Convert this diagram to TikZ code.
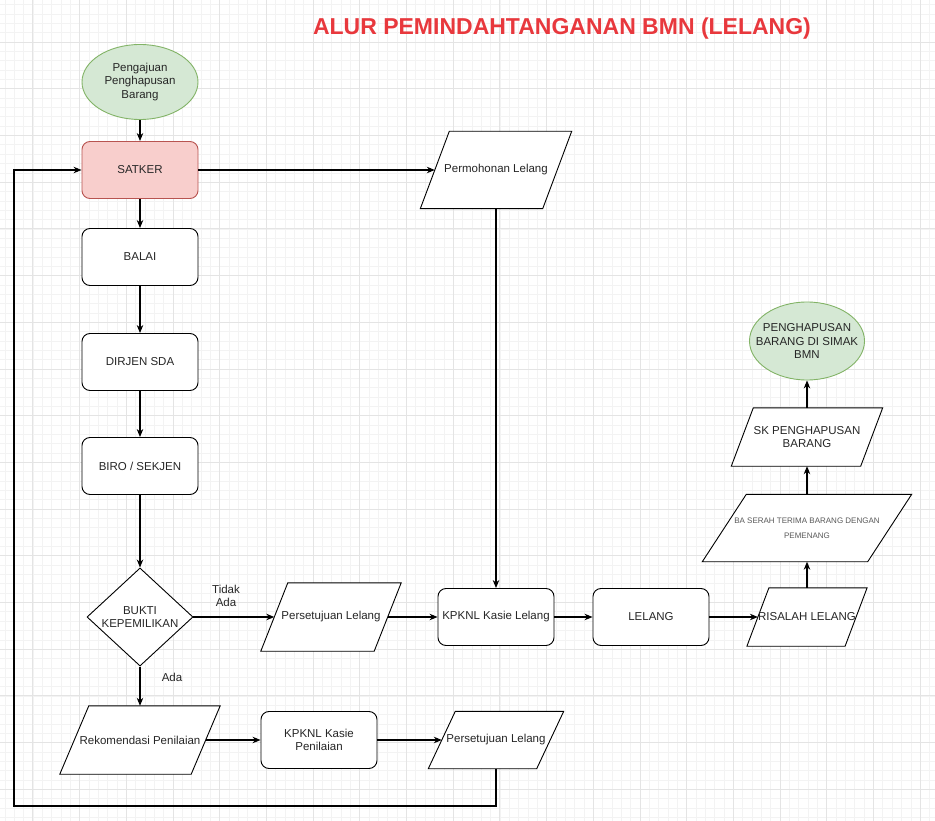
\documentclass[tikz,border=0pt]{standalone}
\usepackage{fontspec}
\setmainfont{Liberation Sans}
\usetikzlibrary{shapes.geometric, arrows.meta, backgrounds}
\definecolor{startfill}{HTML}{D5E8D4}
\definecolor{startline}{HTML}{82B366}
\definecolor{satkerfill}{HTML}{F8CECC}
\definecolor{satkerline}{HTML}{B85450}
\definecolor{titlered}{HTML}{E8383D}
\definecolor{gridmajor}{HTML}{E4E4E4}
\definecolor{gridminor}{HTML}{F3F3F3}

\begin{document}
\begin{tikzpicture}
        [x=1pt, y=-1pt, every node/.style={font=\fontsize{11.5}{13.5}\selectfont, text=black!85, align=center},
         box/.style={draw, fill=white, rounded corners=8pt, minimum width=116pt, minimum height=57pt, line width=0.9pt},
         para/.style={inner sep=0pt},
         parashape/.style={draw, fill=white, line width=0.9pt},
         ends/.style={draw=startline, fill=startfill, ellipse, inner sep=0pt, line width=0.9pt},
         link/.style={-{Stealth[length=8pt, width=6.5pt]}, line width=1.1pt, black}]

        \useasboundingbox (0,0) rectangle (935,821);

        \node[text=titlered, font=\fontsize{23}{26}\bfseries\selectfont] (title) at (562,29) {ALUR PEMINDAHTANGANAN BMN (LELANG)};

        \node[ends, minimum width=116pt, minimum height=75pt] (start) at (140,82) {Pengajuan\\Penghapusan\\Barang};
        \node[box, fill=satkerfill, draw=satkerline] (satker) at (140,170) {SATKER};
        \node[box] (balai) at (140,257) {BALAI};
        \node[box] (dirjen) at (140,362) {DIRJEN SDA};
        \node[box] (biro) at (140,466) {BIRO / SEKJEN};
        \node[draw, fill=white, diamond, minimum width=106pt, minimum height=94pt, inner sep=0pt, line width=0.9pt] (bukti) at (140,617) {BUKTI\\KEPEMILIKAN};
        \node[para, minimum width=131pt, minimum height=68pt] (rekom) at (140,740) {Rekomendasi Penilaian};
        \node[box] (kpnilai) at (319,740) {KPKNL Kasie\\Penilaian};
        \node[para, minimum width=108pt, minimum height=57pt] (setuju2) at (496,740) {Persetujuan Lelang};

        \node[para, minimum width=122pt, minimum height=77pt] (mohon) at (496,170) {Permohonan Lelang};
        \node[para, minimum width=113pt, minimum height=68pt] (setuju1) at (331,617) {Persetujuan Lelang};
        \node[box] (kplelang) at (496,617) {KPKNL Kasie Lelang};
        \node[box] (lelang) at (651,617) {LELANG};
        \node[para, minimum width=96pt, minimum height=58pt] (risalah) at (807,617) {RISALAH LELANG};
        \node[para, minimum width=165pt, minimum height=67pt, font=\fontsize{8}{15}\selectfont, text=black!65] (serah) at (807,528) {BA SERAH TERIMA BARANG DENGAN\\PEMENANG};
        \node[para, minimum width=129pt, minimum height=58pt] (sk) at (807,437) {SK PENGHAPUSAN\\BARANG};
        \node[ends, minimum width=115pt, minimum height=78pt, inner xsep=-16pt] (hapus) at (807,341) {PENGHAPUSAN\\BARANG DI SIMAK\\BMN};

        \node (tidak) at (226,596) {Tidak\\Ada};
        \node (ada) at (172,677) {Ada};
        \coordinate (back) at (14,806);

        \draw[link] (start) -- (satker);
        \draw[link] (satker) -- (balai);
        \draw[link] (balai) -- (dirjen);
        \draw[link] (dirjen) -- (biro);
        \draw[link] (biro) -- (bukti);
        \draw[link] (satker) -- (mohon);
        \draw[link] (mohon) -- (kplelang);
        \draw[link] (bukti) -- (setuju1);
        \draw[link] (setuju1) -- (kplelang);
        \draw[link] (kplelang) -- (lelang);
        \draw[link] (lelang) -- (risalah);
        \draw[link] (risalah) -- (serah);
        \draw[link] (serah) -- (sk);
        \draw[link] (sk) -- (hapus);
        \draw[link] (bukti) -- (rekom);
        \draw[link] (rekom) -- (kpnilai);
        \draw[link] (kpnilai) -- (setuju2);
        \draw[link] (setuju2) |- (back) |- (satker);

        % grid and slanted boxes behind everything
        \begin{pgfonlayer}{background}
          \fill[white] (0,0) rectangle (935,821);
          \foreach \gx in {4.78,14.12,...,935} \draw[gridminor, line width=0.5pt] (\gx,0) -- (\gx,821);
          \foreach \gy in {4.64,13.98,...,821} \draw[gridminor, line width=0.5pt] (0,\gy) -- (935,\gy);
          \foreach \gx in {32.8,79.5,...,935} \draw[gridmajor, line width=0.7pt] (\gx,0) -- (\gx,821);
          \foreach \gy in {42,88.7,...,821} \draw[gridmajor, line width=0.7pt] (0,\gy) -- (935,\gy);
          \foreach \p/\s in {rekom/14.5, setuju2/13.5, mohon/14.5, setuju1/13.5, risalah/11, serah/22, sk/11}
            \draw[parashape] ([xshift=-\s pt]\p.south west) -- ([xshift=\s pt]\p.north west)
              -- ([xshift=\s pt]\p.north east) -- ([xshift=-\s pt]\p.south east) -- cycle;
        \end{pgfonlayer}

      \end{tikzpicture}
\end{document}
